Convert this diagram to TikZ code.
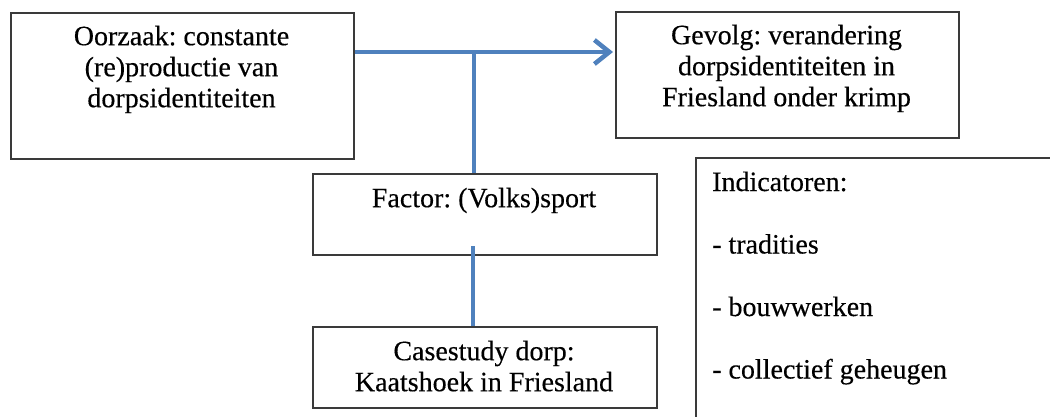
\documentclass[tikz,border=0pt]{standalone}
\usepackage{fontspec}
\setmainfont{Liberation Serif}
\newfontfamily\diagfont{Liberation Serif}[FakeBold=0.35]
\usetikzlibrary{arrows.meta}
\definecolor{lineblue}{HTML}{4F81BD}
\definecolor{boxgray}{HTML}{3A3A3A}
\frenchspacing
\begin{document}
\begin{tikzpicture}[x=1pt,y=-1pt,
  box/.style={draw=boxgray,line width=1.6pt,anchor=north west,inner sep=0pt},
  txt/.style={font=\diagfont\frenchspacing\fontsize{28}{31}\selectfont,align=center,anchor=north,inner sep=0pt},
  ltxt/.style={font=\diagfont\frenchspacing\fontsize{28}{31}\selectfont,anchor=base west,inner sep=0pt},
  conn/.style={draw=lineblue,line width=4.5pt},
  arr/.style={conn,-{Straight Barb[length=15pt,width=24pt,line width=4.5pt]}}]
\path[use as bounding box,clip] (0,0) rectangle (1050,416);
% boxes
\node[box,minimum width=343pt,minimum height=146pt] (oorz) at (10,12) {};
\node[box,minimum width=343pt,minimum height=126pt] (gev) at (615,11) {};
\node[box,minimum width=344pt,minimum height=81pt] (fac) at (312,173) {};
\node[box,minimum width=344pt,minimum height=81pt] (cs) at (312,326) {};
\node[box,minimum width=420pt,minimum height=320pt] (ind) at (695,157) {};
% texts
\node[txt] (toorz) at (181.5,23.3) {\strut Oorzaak: constante\\(re)productie van\\dorpsidentiteiten};
\node[txt] (tgev) at (786.5,22.3) {\strut Gevolg: verandering\\dorpsidentiteiten in\\Friesland onder krimp};
\node[txt] (tfac) at (484,185.3) {\strut Factor: (Volks)sport};
\node[txt] (tcs) at (484,338.3) {\strut Casestudy dorp:\\Kaatshoek in Friesland};
\node[ltxt] (i1) at (712,191) {Indicatoren:};
\node[ltxt] (i2) at (712,253.5) {- tradities};
\node[ltxt] (i3) at (712,316) {- bouwwerken};
\node[ltxt] (i4) at (712,378.5) {- collectief geheugen};
% connectors
\coordinate (j) at (474,52);
\coordinate (k) at (473,246);
\draw[arr] (oorz.east |- j) -- ([xshift=-2pt]gev.west |- j);
\draw[conn] (j) -- (fac.north -| j);
\draw[conn] (k) -- (cs.north -| k);
\end{tikzpicture}
\end{document}
